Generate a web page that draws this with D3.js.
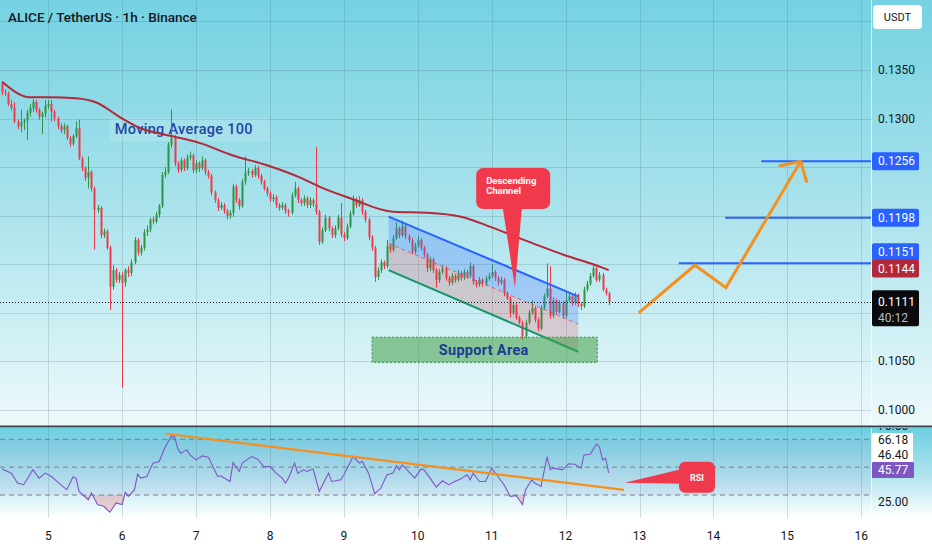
<!DOCTYPE html>
<html>
<head>
<meta charset="utf-8">
<script src="https://cdn.jsdelivr.net/npm/d3@7"></script>
<style>
  html, body { margin: 0; padding: 0; background: #fff; }
  svg { display: block; font-family: Roboto, "Noto Sans", sans-serif; }
</style>
</head>
<body>
<svg id="svg" width="932" height="550"></svg>
<script>
// ---- Data ----
const symbolTitle = 'ALICE / TetherUS · 1h · Binance';
const dayTicks    = [5, 6, 7, 8, 9, 10, 11, 12, 13, 14, 15, 16];
const priceTicks  = [0.1000, 0.1050, 0.1100, 0.1150, 0.1200, 0.1250, 0.1300, 0.1350, 0.1400];
const rsiLevels   = [70, 50, 30];
const rsiTickVals = [75, 25];
const startHour   = 4 * 24 + 9;   // first candle: day 4, 09:00

// hourly candles [open, high, low, close]
const ohlc = [
  [0.1336,0.1338,0.1324,0.1327],[0.1327,0.1330,0.1323,0.1326],[0.1326,0.1328,0.1313,0.1315],[0.1315,0.1319,0.1308,0.1311],
  [0.1311,0.1317,0.1295,0.1297],[0.1297,0.1299,0.1289,0.1292],[0.1292,0.1309,0.1286,0.1296],[0.1296,0.1300,0.1288,0.1298],
  [0.1298,0.1309,0.1278,0.1306],[0.1306,0.1315,0.1302,0.1311],[0.1311,0.1320,0.1307,0.1317],[0.1317,0.1319,0.1306,0.1309],
  [0.1309,0.1311,0.1299,0.1302],[0.1302,0.1307,0.1284,0.1305],[0.1305,0.1319,0.1301,0.1313],[0.1313,0.1319,0.1310,0.1315],
  [0.1315,0.1319,0.1297,0.1307],[0.1307,0.1309,0.1297,0.1300],[0.1300,0.1302,0.1289,0.1292],[0.1292,0.1295,0.1285,0.1288],
  [0.1288,0.1295,0.1284,0.1292],[0.1292,0.1294,0.1278,0.1280],[0.1280,0.1282,0.1271,0.1274],[0.1274,0.1284,0.1272,0.1282],
  [0.1282,0.1297,0.1280,0.1290],[0.1290,0.1299,0.1257,0.1259],[0.1259,0.1261,0.1246,0.1249],[0.1249,0.1251,0.1236,0.1239],
  [0.1239,0.1261,0.1228,0.1245],[0.1245,0.1247,0.1225,0.1228],[0.1228,0.1230,0.1165,0.1206],[0.1206,0.1211,0.1203,0.1208],
  [0.1208,0.1210,0.1177,0.1180],[0.1180,0.1187,0.1177,0.1184],[0.1184,0.1186,0.1165,0.1167],[0.1167,0.1169,0.1103,0.1127],
  [0.1127,0.1149,0.1124,0.1144],[0.1144,0.1146,0.1131,0.1134],[0.1134,0.1142,0.1131,0.1139],[0.1139,0.1142,0.1023,0.1131],
  [0.1131,0.1146,0.1127,0.1144],[0.1144,0.1148,0.1137,0.1141],[0.1141,0.1155,0.1138,0.1152],[0.1152,0.1178,0.1150,0.1175],
  [0.1175,0.1177,0.1159,0.1162],[0.1162,0.1170,0.1159,0.1167],[0.1167,0.1186,0.1164,0.1183],[0.1183,0.1190,0.1179,0.1186],
  [0.1186,0.1198,0.1183,0.1196],[0.1196,0.1199,0.1191,0.1194],[0.1194,0.1204,0.1192,0.1201],[0.1201,0.1212,0.1198,0.1210],
  [0.1210,0.1245,0.1208,0.1242],[0.1242,0.1250,0.1239,0.1245],[0.1245,0.1276,0.1243,0.1273],[0.1273,0.1309,0.1270,0.1280],
  [0.1280,0.1283,0.1251,0.1254],[0.1254,0.1256,0.1244,0.1247],[0.1247,0.1260,0.1245,0.1257],[0.1257,0.1259,0.1246,0.1249],
  [0.1249,0.1263,0.1247,0.1260],[0.1260,0.1266,0.1257,0.1262],[0.1262,0.1264,0.1244,0.1247],[0.1247,0.1257,0.1244,0.1254],
  [0.1254,0.1256,0.1245,0.1249],[0.1249,0.1261,0.1247,0.1257],[0.1257,0.1259,0.1242,0.1245],[0.1245,0.1247,0.1238,0.1241],
  [0.1241,0.1243,0.1221,0.1224],[0.1224,0.1226,0.1213,0.1216],[0.1216,0.1218,0.1205,0.1208],[0.1208,0.1214,0.1206,0.1211],
  [0.1211,0.1213,0.1202,0.1205],[0.1205,0.1207,0.1196,0.1200],[0.1200,0.1206,0.1197,0.1203],[0.1203,0.1233,0.1199,0.1230],
  [0.1230,0.1232,0.1213,0.1216],[0.1216,0.1218,0.1206,0.1210],[0.1210,0.1238,0.1208,0.1235],[0.1235,0.1261,0.1232,0.1244],
  [0.1244,0.1249,0.1241,0.1246],[0.1246,0.1248,0.1239,0.1242],[0.1242,0.1252,0.1240,0.1249],[0.1249,0.1251,0.1238,0.1241],
  [0.1241,0.1243,0.1232,0.1235],[0.1235,0.1237,0.1226,0.1228],[0.1228,0.1230,0.1220,0.1223],[0.1223,0.1225,0.1214,0.1217],
  [0.1217,0.1222,0.1214,0.1219],[0.1219,0.1221,0.1208,0.1211],[0.1211,0.1213,0.1205,0.1208],[0.1208,0.1214,0.1206,0.1211],
  [0.1211,0.1213,0.1202,0.1205],[0.1205,0.1207,0.1199,0.1203],[0.1203,0.1224,0.1201,0.1221],[0.1221,0.1235,0.1219,0.1228],
  [0.1228,0.1230,0.1213,0.1216],[0.1216,0.1218,0.1210,0.1213],[0.1213,0.1221,0.1210,0.1218],[0.1218,0.1220,0.1208,0.1211],
  [0.1211,0.1219,0.1208,0.1216],[0.1216,0.1218,0.1209,0.1212],[0.1212,0.1271,0.1201,0.1204],[0.1204,0.1206,0.1170,0.1173],
  [0.1173,0.1188,0.1171,0.1185],[0.1185,0.1201,0.1183,0.1198],[0.1198,0.1200,0.1184,0.1187],[0.1187,0.1189,0.1177,0.1180],
  [0.1180,0.1190,0.1177,0.1187],[0.1187,0.1201,0.1185,0.1198],[0.1198,0.1213,0.1178,0.1181],[0.1181,0.1183,0.1174,0.1177],
  [0.1177,0.1192,0.1175,0.1189],[0.1189,0.1205,0.1187,0.1202],[0.1202,0.1221,0.1200,0.1217],[0.1217,0.1219,0.1208,0.1211],
  [0.1211,0.1220,0.1209,0.1216],[0.1216,0.1218,0.1201,0.1204],[0.1204,0.1206,0.1193,0.1196],[0.1196,0.1198,0.1175,0.1178],
  [0.1178,0.1180,0.1164,0.1167],[0.1167,0.1169,0.1132,0.1137],[0.1137,0.1147,0.1134,0.1144],[0.1144,0.1155,0.1141,0.1152],
  [0.1152,0.1154,0.1145,0.1148],[0.1148,0.1175,0.1146,0.1169],[0.1169,0.1171,0.1162,0.1165],[0.1165,0.1180,0.1163,0.1177],
  [0.1177,0.1193,0.1175,0.1187],[0.1187,0.1189,0.1177,0.1180],[0.1180,0.1195,0.1178,0.1189],[0.1189,0.1191,0.1176,0.1179],
  [0.1179,0.1181,0.1172,0.1175],[0.1175,0.1177,0.1160,0.1163],[0.1163,0.1172,0.1161,0.1169],[0.1169,0.1179,0.1167,0.1175],
  [0.1175,0.1177,0.1164,0.1167],[0.1167,0.1169,0.1157,0.1160],[0.1160,0.1162,0.1142,0.1146],[0.1146,0.1158,0.1143,0.1155],
  [0.1155,0.1157,0.1141,0.1144],[0.1144,0.1146,0.1126,0.1134],[0.1134,0.1145,0.1131,0.1142],[0.1142,0.1149,0.1140,0.1146],
  [0.1146,0.1148,0.1133,0.1136],[0.1136,0.1138,0.1128,0.1131],[0.1131,0.1141,0.1129,0.1138],[0.1138,0.1140,0.1131,0.1134],
  [0.1134,0.1144,0.1132,0.1141],[0.1141,0.1143,0.1133,0.1136],[0.1136,0.1145,0.1134,0.1142],[0.1142,0.1144,0.1135,0.1138],
  [0.1138,0.1152,0.1136,0.1148],[0.1148,0.1150,0.1129,0.1132],[0.1132,0.1134,0.1126,0.1129],[0.1129,0.1137,0.1127,0.1134],
  [0.1134,0.1136,0.1127,0.1130],[0.1130,0.1138,0.1128,0.1135],[0.1135,0.1141,0.1133,0.1138],[0.1138,0.1150,0.1136,0.1142],
  [0.1142,0.1144,0.1133,0.1136],[0.1136,0.1138,0.1128,0.1131],[0.1131,0.1137,0.1129,0.1134],[0.1134,0.1136,0.1117,0.1120],
  [0.1120,0.1122,0.1113,0.1115],[0.1115,0.1117,0.1095,0.1100],[0.1100,0.1111,0.1098,0.1108],[0.1108,0.1110,0.1093,0.1095],
  [0.1095,0.1097,0.1088,0.1090],[0.1090,0.1092,0.1072,0.1076],[0.1076,0.1093,0.1074,0.1090],[0.1090,0.1103,0.1088,0.1100],
  [0.1100,0.1113,0.1098,0.1105],[0.1105,0.1107,0.1090,0.1093],[0.1093,0.1095,0.1081,0.1084],[0.1084,0.1108,0.1082,0.1105],
  [0.1105,0.1120,0.1103,0.1117],[0.1117,0.1151,0.1115,0.1125],[0.1125,0.1148,0.1094,0.1097],[0.1097,0.1116,0.1095,0.1113],
  [0.1113,0.1115,0.1098,0.1101],[0.1101,0.1113,0.1099,0.1110],[0.1110,0.1112,0.1094,0.1097],[0.1097,0.1122,0.1095,0.1113],
  [0.1113,0.1120,0.1111,0.1117],[0.1117,0.1119,0.1107,0.1110],[0.1110,0.1121,0.1108,0.1118],[0.1118,0.1120,0.1106,0.1109],
  [0.1109,0.1111,0.1103,0.1107],[0.1107,0.1127,0.1105,0.1124],[0.1124,0.1133,0.1122,0.1130],[0.1130,0.1141,0.1128,0.1138],
  [0.1138,0.1149,0.1136,0.1146],[0.1146,0.1148,0.1132,0.1134],[0.1134,0.1142,0.1132,0.1139],[0.1139,0.1141,0.1122,0.1124],
  [0.1124,0.1126,0.1118,0.1120],[0.1120,0.1122,0.1108,0.1111]
];

// Moving Average 100 (candle index -> value)
const maIdx = [0, 9, 15, 24, 31, 38, 45, 55, 64, 75, 86, 97, 103, 113, 127, 138, 149, 159, 172, 184, 191, 197];
const maVal = [0.1338, 0.1322, 0.1322, 0.1321, 0.1316, 0.1302, 0.1290, 0.1282, 0.1275, 0.1262, 0.1252,
               0.1239, 0.1230, 0.1218, 0.1204, 0.1203, 0.1199, 0.1188, 0.1172, 0.1158, 0.1151, 0.1144];

// RSI (candle index -> value)
const rsiIdx = [0,3,5,7,10,12,14,16,19,21,23,24,25,28,29,31,33,35,37,39,40,41,43,44,45,47,49,51,53,55,56,57,58,60,61,
  63,65,67,70,71,74,75,77,78,81,83,85,87,89,91,92,93,95,96,98,99,101,103,106,107,110,111,114,116,117,119,121,123,125,127,
  128,129,130,134,136,137,139,141,143,145,147,149,151,152,153,155,157,159,161,163,165,167,169,170,172,173,175,177,178,179,
  182,184,186,188,189,191,193,194,195,196,197];
const rsiVal = [48.6,45.7,38.6,37.4,48.1,42.1,45.7,43.3,37.4,33.8,42.9,42.1,32.6,26.6,31.4,23.1,21.9,17.6,24.3,23.1,31.9,
  29.0,33.8,45.0,42.1,43.3,52.9,54.0,64.7,72.4,71.9,63.6,60.0,62.4,58.8,55.2,58.1,57.1,43.3,43.8,39.7,53.3,46.9,52.9,57.6,
  55.7,50.4,50.4,45.7,42.1,38.6,42.1,52.9,45.7,48.1,46.9,48.6,32.6,45.7,39.7,40.9,44.5,57.6,52.9,54.0,45.7,30.9,35.0,44.5,
  45.7,50.9,48.1,51.6,42.1,48.6,48.1,42.1,35.7,40.2,37.4,39.7,41.6,44.5,40.9,45.7,39.7,39.7,49.3,43.3,37.4,29.0,29.5,23.1,
  33.8,40.9,38.6,36.1,57.6,48.1,49.3,48.1,52.4,52.1,49.3,58.8,59.3,66.6,64.7,55.2,56.4,45.8];
const rsiTrendDay = [6.59, 12.79];
const rsiTrendVal = [74.0, 33.7];

// drawings
const lastPrice     = 0.1111;
const countdown     = '40:12';
const maLast        = 0.1144;
const rsiLast       = 45.77;
const rsiBandVals   = [66.18, 46.40];
const targetPrices  = [0.1256, 0.1198, 0.1151];
const targetFromDay = [14.65, 14.16, 13.53];
const projDay       = [12.99, 13.75, 14.17, 15.18];
const projPrice     = [0.1100, 0.1149, 0.1126, 0.1256];
const channelDay    = [9.605, 12.17];
const channelTop    = [0.1199, 0.1117];
const channelBot    = [0.1144, 0.1060];
const supportDay    = [9.38, 12.43];
const supportPrice  = [0.1049, 0.1075];
const maLabelAt     = [5.90, 0.1289];
const descBoxAt     = [10.79, 0.1249];
const descTipAt     = [11.315, 0.1126];
const rsiBoxAt      = [13.535, 53.8];
const rsiTipAt      = [12.80, 38.8];

// ---- Setup ----
const W = 932, H = 550;
const plotR = 871;
const mainB = 425, rsiT = 428, rsiB = 518;
const UP = '#2f9443', DOWN = '#ee3a4b', BLUE = '#2962ff', MA_COL = '#b1293a', ORANGE = '#f5901e';

const svg = d3.select('#svg');
const x   = d3.scaleLinear().domain([5, 16]).range([48.3, 861.2]);
const y   = d3.scaleLinear().domain([0.1000, 0.1350]).range([410, 70]);
const yR  = d3.scaleLinear().domain([30, 70]).range([495, 439.3]);
const dayOf = i => (startHour + i) / 24;

const defs = svg.append('defs');
const gMain = defs.append('linearGradient').attr('id', 'bgMain').attr('x1', 0).attr('x2', 0).attr('y1', 0).attr('y2', 1);
[[0, '#74d2e2'], [0.45, '#a5e1eb'], [0.75, '#cbeef3'], [1, '#eef9fb']].forEach(([o, c]) =>
  gMain.append('stop').attr('offset', o).attr('stop-color', c));
const gRsi = defs.append('linearGradient').attr('id', 'bgRsi').attr('x1', 0).attr('x2', 0).attr('y1', 0).attr('y2', 1);
[[0, '#6ccfdf'], [0.55, '#b3e5ee'], [1, '#ffffff']].forEach(([o, c]) =>
  gRsi.append('stop').attr('offset', o).attr('stop-color', c));
defs.append('clipPath').attr('id', 'clipMain').append('rect').attr('x', 0).attr('y', 0).attr('width', plotR).attr('height', mainB);
defs.append('clipPath').attr('id', 'clipRsi').append('rect').attr('x', 0).attr('y', rsiT).attr('width', plotR).attr('height', rsiB - rsiT);
defs.append('clipPath').attr('id', 'clipOS').append('rect').attr('x', 0).attr('y', yR(30)).attr('width', plotR).attr('height', rsiB - yR(30));
defs.append('clipPath').attr('id', 'clipOB').append('rect').attr('x', 0).attr('y', rsiT).attr('width', plotR).attr('height', yR(70) - rsiT);
defs.append('clipPath').attr('id', 'clipRsiAxis').append('rect').attr('x', plotR).attr('y', rsiT).attr('width', W - plotR).attr('height', rsiB - rsiT);
defs.append('clipPath').attr('id', 'clipTopTick').append('rect').attr('x', plotR).attr('y', rsiT).attr('width', W - plotR).attr('height', 5);

// --- Background ---
svg.append('rect').attr('width', W).attr('height', H).attr('fill', '#fff');
svg.append('rect').attr('width', W).attr('height', mainB).attr('fill', 'url(#bgMain)');
svg.append('rect').attr('y', rsiT).attr('width', W).attr('height', rsiB - rsiT).attr('fill', 'url(#bgRsi)');

// --- Grid ---
const grid = svg.append('g').attr('stroke', 'rgba(70,100,110,0.2)').attr('stroke-width', 1);
grid.selectAll('line.v').data(dayTicks).join('line')
  .attr('x1', d => Math.round(x(d)) + 0.5).attr('x2', d => Math.round(x(d)) + 0.5)
  .attr('y1', 0).attr('y2', rsiB);
grid.selectAll('line.h').data(priceTicks).join('line')
  .attr('x1', 0).attr('x2', plotR)
  .attr('y1', d => Math.round(y(d)) + 0.5).attr('y2', d => Math.round(y(d)) + 0.5);

// --- RSI pane ---
const rsiG = svg.append('g').attr('clip-path', 'url(#clipRsi)');
rsiG.append('rect').attr('x', 0).attr('width', plotR)
  .attr('y', yR(70)).attr('height', yR(30) - yR(70)).attr('fill', 'rgba(126,87,194,0.08)');
rsiG.selectAll('line.lvl').data(rsiLevels).join('line')
  .attr('x1', 0).attr('x2', plotR)
  .attr('y1', d => yR(d)).attr('y2', d => yR(d))
  .attr('stroke', '#7b7f8a').attr('stroke-dasharray', '5 4').attr('stroke-width', 1);

const rsiPts = rsiIdx.map((k, j) => [x(dayOf(k)), yR(rsiVal[j])]);
rsiG.append('path').attr('clip-path', 'url(#clipOS)')
  .attr('d', d3.area().x(d => d[0]).y0(yR(30)).y1(d => d[1])(rsiPts))
  .attr('fill', 'rgba(242,54,69,0.22)');
rsiG.append('path').attr('clip-path', 'url(#clipOB)')
  .attr('d', d3.area().x(d => d[0]).y0(yR(70)).y1(d => d[1])(rsiPts))
  .attr('fill', 'rgba(8,153,129,0.25)');
rsiG.append('path').attr('d', d3.line()(rsiPts))
  .attr('fill', 'none').attr('stroke', '#7e57c2').attr('stroke-width', 1.1);

rsiG.append('line')
  .attr('x1', x(rsiTrendDay[0])).attr('y1', yR(rsiTrendVal[0]))
  .attr('x2', x(rsiTrendDay[1])).attr('y2', yR(rsiTrendVal[1]))
  .attr('stroke', ORANGE).attr('stroke-width', 2.2);

// RSI callout
{
  const bx = x(rsiBoxAt[0]), by = yR(rsiBoxAt[1]);
  const tx = x(rsiTipAt[0]), ty = yR(rsiTipAt[1]);
  svg.append('path')
    .attr('d', `M${tx},${ty} L${bx + 4},${by + 7} L${bx + 4},${by + 22} Z`)
    .attr('fill', '#ef3a4d');
  svg.append('rect').attr('x', bx).attr('y', by).attr('width', 36).attr('height', 31).attr('rx', 6)
    .attr('fill', '#ef3a4d');
  svg.append('text').attr('x', bx + 18).attr('y', by + 16).attr('text-anchor', 'middle')
    .attr('dominant-baseline', 'central').attr('fill', '#fff').attr('font-size', 9).attr('font-weight', 700)
    .text('RSI');
}

// --- Main pane ---
const mainG = svg.append('g').attr('clip-path', 'url(#clipMain)');

// MA label
{
  const lx = x(maLabelAt[0]), ly = y(maLabelAt[1]);
  mainG.append('rect').attr('x', lx - 5).attr('y', ly - 11).attr('width', 160).attr('height', 23)
    .attr('fill', 'rgba(255,255,255,0.16)');
  mainG.append('text').attr('x', lx).attr('y', ly).attr('dominant-baseline', 'central')
    .attr('fill', '#2347a3').attr('font-size', 14.5).attr('font-weight', 500).attr('letter-spacing', 0.3)
    .text('Moving Average 100');
}

// candles
const candles = mainG.append('g').selectAll('g').data(ohlc).join('g');
candles.append('line')
  .attr('x1', (d, i) => Math.round(x(dayOf(i))) + 0.5).attr('x2', (d, i) => Math.round(x(dayOf(i))) + 0.5)
  .attr('y1', d => y(d[1])).attr('y2', d => y(d[2]))
  .attr('stroke', d => d[3] >= d[0] ? UP : DOWN).attr('stroke-width', 1);
candles.append('rect')
  .attr('x', (d, i) => Math.round(x(dayOf(i))) - 0.5).attr('width', 2)
  .attr('y', d => y(Math.max(d[0], d[3])))
  .attr('height', d => Math.max(1, Math.abs(y(d[0]) - y(d[3]))))
  .attr('fill', d => d[3] >= d[0] ? UP : DOWN);

// MA 100
mainG.append('path')
  .attr('d', d3.line().curve(d3.curveMonotoneX)(maIdx.map((k, j) => [x(dayOf(k)), y(maVal[j])])))
  .attr('fill', 'none').attr('stroke', MA_COL).attr('stroke-width', 2);

// descending channel
{
  const xl = x(channelDay[0]), xr = x(channelDay[1]);
  const midL = (channelTop[0] + channelBot[0]) / 2, midR = (channelTop[1] + channelBot[1]) / 2;
  mainG.append('path')
    .attr('d', `M${xl},${y(channelTop[0])} L${xr},${y(channelTop[1])} L${xr},${y(midR)} L${xl},${y(midL)} Z`)
    .attr('fill', 'rgba(66,120,255,0.28)');
  mainG.append('path')
    .attr('d', `M${xl},${y(midL)} L${xr},${y(midR)} L${xr},${y(channelBot[1])} L${xl},${y(channelBot[0])} Z`)
    .attr('fill', 'rgba(242,54,69,0.2)');
  mainG.append('line').attr('x1', xl).attr('y1', y(midL)).attr('x2', xr).attr('y2', y(midR))
    .attr('stroke', 'rgba(235,60,75,0.75)').attr('stroke-dasharray', '4 3').attr('stroke-width', 1);
  mainG.append('line').attr('x1', xl).attr('y1', y(channelTop[0])).attr('x2', xr).attr('y2', y(channelTop[1]))
    .attr('stroke', BLUE).attr('stroke-width', 2);
  mainG.append('line').attr('x1', xl).attr('y1', y(channelBot[0])).attr('x2', xr).attr('y2', y(channelBot[1]))
    .attr('stroke', '#16936b').attr('stroke-width', 2);
}

// support area
{
  const sx = x(supportDay[0]), sw = x(supportDay[1]) - sx;
  const sy = y(supportPrice[1]), sh = y(supportPrice[0]) - sy;
  mainG.append('rect').attr('x', sx).attr('y', sy).attr('width', sw).attr('height', sh)
    .attr('fill', 'rgba(67,160,71,0.55)').attr('stroke', '#3f9a48').attr('stroke-dasharray', '2 2');
  mainG.append('text').attr('x', sx + sw / 2 - 1).attr('y', sy + sh / 2 + 1)
    .attr('text-anchor', 'middle').attr('dominant-baseline', 'central')
    .attr('fill', '#1b3c92').attr('font-size', 14.5).attr('font-weight', 700).attr('letter-spacing', 0.3)
    .text('Support Area');
}

// targets
mainG.selectAll('line.tgt').data(targetPrices).join('line')
  .attr('x1', (d, i) => x(targetFromDay[i])).attr('x2', plotR)
  .attr('y1', d => y(d)).attr('y2', d => y(d))
  .attr('stroke', BLUE).attr('stroke-width', 2);

// projection arrow
{
  const pts = projDay.map((d, i) => [x(d), y(projPrice[i])]);
  mainG.append('path').attr('d', d3.line()(pts))
    .attr('fill', 'none').attr('stroke', ORANGE).attr('stroke-width', 3).attr('stroke-linejoin', 'miter');
  const [ax, ay] = pts[pts.length - 1], [bx, by] = pts[pts.length - 2];
  const ang = Math.atan2(by - ay, bx - ax), spread = 47 * Math.PI / 180, len = 21;
  const a1 = [ax + len * Math.cos(ang + spread), ay + len * Math.sin(ang + spread)];
  const a2 = [ax + len * Math.cos(ang - spread), ay + len * Math.sin(ang - spread)];
  mainG.append('path').attr('d', `M${a1} L${ax},${ay} L${a2}`)
    .attr('fill', 'none').attr('stroke', ORANGE).attr('stroke-width', 3).attr('stroke-linecap', 'round');
}

// descending channel callout
{
  const bx = x(descBoxAt[0]), by = y(descBoxAt[1]);
  const tx = x(descTipAt[0]), ty = y(descTipAt[1]);
  mainG.append('path').attr('d', `M${bx + 26},${by + 36} L${tx},${ty} L${bx + 46},${by + 36} Z`).attr('fill', '#f0394b');
  mainG.append('rect').attr('x', bx).attr('y', by).attr('width', 74).attr('height', 41).attr('rx', 7).attr('fill', '#f0394b');
  mainG.append('text').attr('x', bx + 10).attr('y', by + 16).attr('fill', '#fff')
    .attr('font-size', 9.5).attr('font-weight', 700).text('Descending');
  mainG.append('text').attr('x', bx + 10).attr('y', by + 26).attr('fill', '#fff')
    .attr('font-size', 9.5).attr('font-weight', 700).text('Channel');
}

// last price line
mainG.append('line').attr('x1', 0).attr('x2', plotR)
  .attr('y1', Math.round(y(lastPrice)) + 0.5).attr('y2', Math.round(y(lastPrice)) + 0.5)
  .attr('stroke', '#131722').attr('stroke-dasharray', '1 2').attr('stroke-width', 1);

// --- Separators ---
svg.append('line').attr('x1', plotR + 0.5).attr('x2', plotR + 0.5).attr('y1', 0).attr('y2', H)
  .attr('stroke', 'rgba(255,255,255,0.7)');
svg.append('line').attr('x1', 0).attr('x2', W).attr('y1', 426.5).attr('y2', 426.5)
  .attr('stroke', '#3a3e48').attr('stroke-width', 2);

// --- Title ---
svg.append('text').attr('x', 8).attr('y', 17).attr('dominant-baseline', 'central')
  .attr('fill', '#131722').attr('font-size', 13.5).attr('font-weight', 500).text(symbolTitle);

// --- Price axis ---
const tags = [
  { v: targetPrices[0], fill: BLUE,   dy: 0 },
  { v: targetPrices[1], fill: BLUE,   dy: 0 },
  { v: targetPrices[2], fill: BLUE,   dy: -11 },
  { v: maLast,          fill: MA_COL, dy: -1.5 },
];
const tagBands = tags.map(t => [y(t.v) + t.dy - 9, y(t.v) + t.dy + 9])
  .concat([[y(lastPrice) - 12, y(lastPrice) + 24], [5, 29]]);
const visibleTick = p => y(p) < 419 && !tagBands.some(([a, b]) => y(p) + 6 > a && y(p) - 6 < b);

const axisG = svg.append('g').attr('font-size', 12).attr('dominant-baseline', 'central');
axisG.selectAll('text.tick').data(priceTicks.filter(visibleTick)).join('text')
  .attr('x', 878).attr('y', d => y(d)).attr('fill', '#131722').text(d => d.toFixed(4));

svg.append('rect').attr('x', 873).attr('y', 5).attr('width', 49).attr('height', 24).attr('rx', 4).attr('fill', '#fff');
svg.append('text').attr('x', 897.5).attr('y', 17.5).attr('text-anchor', 'middle').attr('dominant-baseline', 'central')
  .attr('fill', '#131722').attr('font-size', 11).text('USDT');

tags.forEach(t => {
  const cy = y(t.v) + t.dy;
  axisG.append('rect').attr('x', 872).attr('y', cy - 9).attr('width', 47).attr('height', 18).attr('rx', 2).attr('fill', t.fill);
  axisG.append('text').attr('x', 878).attr('y', cy).attr('fill', '#fff').text(t.v.toFixed(4));
});
{
  const cy = y(lastPrice);
  axisG.append('rect').attr('x', 872).attr('y', cy - 12).attr('width', 47).attr('height', 36).attr('rx', 2).attr('fill', '#0b0b0e');
  axisG.append('text').attr('x', 878).attr('y', cy).attr('fill', '#fff').text(lastPrice.toFixed(4));
  axisG.append('text').attr('x', 878).attr('y', cy + 16).attr('fill', '#b8bcc6').text(countdown);
}

// --- RSI axis ---
const rAxis = svg.append('g').attr('font-size', 12).attr('dominant-baseline', 'central').attr('clip-path', 'url(#clipRsiAxis)');
// top tick sits under the separator: only its lower sliver shows
svg.append('text').attr('clip-path', 'url(#clipTopTick)').attr('font-size', 12).attr('dominant-baseline', 'central')
  .attr('x', 878).attr('y', yR(rsiTickVals[0]) - 6).attr('fill', '#131722').text(rsiTickVals[0].toFixed(2));
rAxis.append('text').attr('x', 878).attr('y', yR(rsiTickVals[1])).attr('fill', '#131722').text(rsiTickVals[1].toFixed(2));
rAxis.append('rect').attr('x', 872).attr('y', 433).attr('width', 41).attr('height', 30).attr('fill', '#fff');
const bandNudge = [-5, -17];
rsiBandVals.forEach((v, i) => {
  rAxis.append('text').attr('x', 878).attr('y', yR(v) + bandNudge[i]).attr('fill', '#131722').text(v.toFixed(2));
});
{
  const cy = yR(rsiLast) - 3;
  rAxis.append('rect').attr('x', 872).attr('y', cy - 8).attr('width', 42).attr('height', 16).attr('rx', 1).attr('fill', '#7e57c2');
  rAxis.append('text').attr('x', 878).attr('y', cy).attr('fill', '#fff').text(rsiLast.toFixed(2));
}

// --- Time axis ---
svg.append('g').selectAll('text').data(dayTicks).join('text')
  .attr('x', d => x(d)).attr('y', 536).attr('text-anchor', 'middle').attr('dominant-baseline', 'central')
  .attr('fill', '#131722').attr('font-size', 12).text(d => d);
</script>
</body>
</html>
